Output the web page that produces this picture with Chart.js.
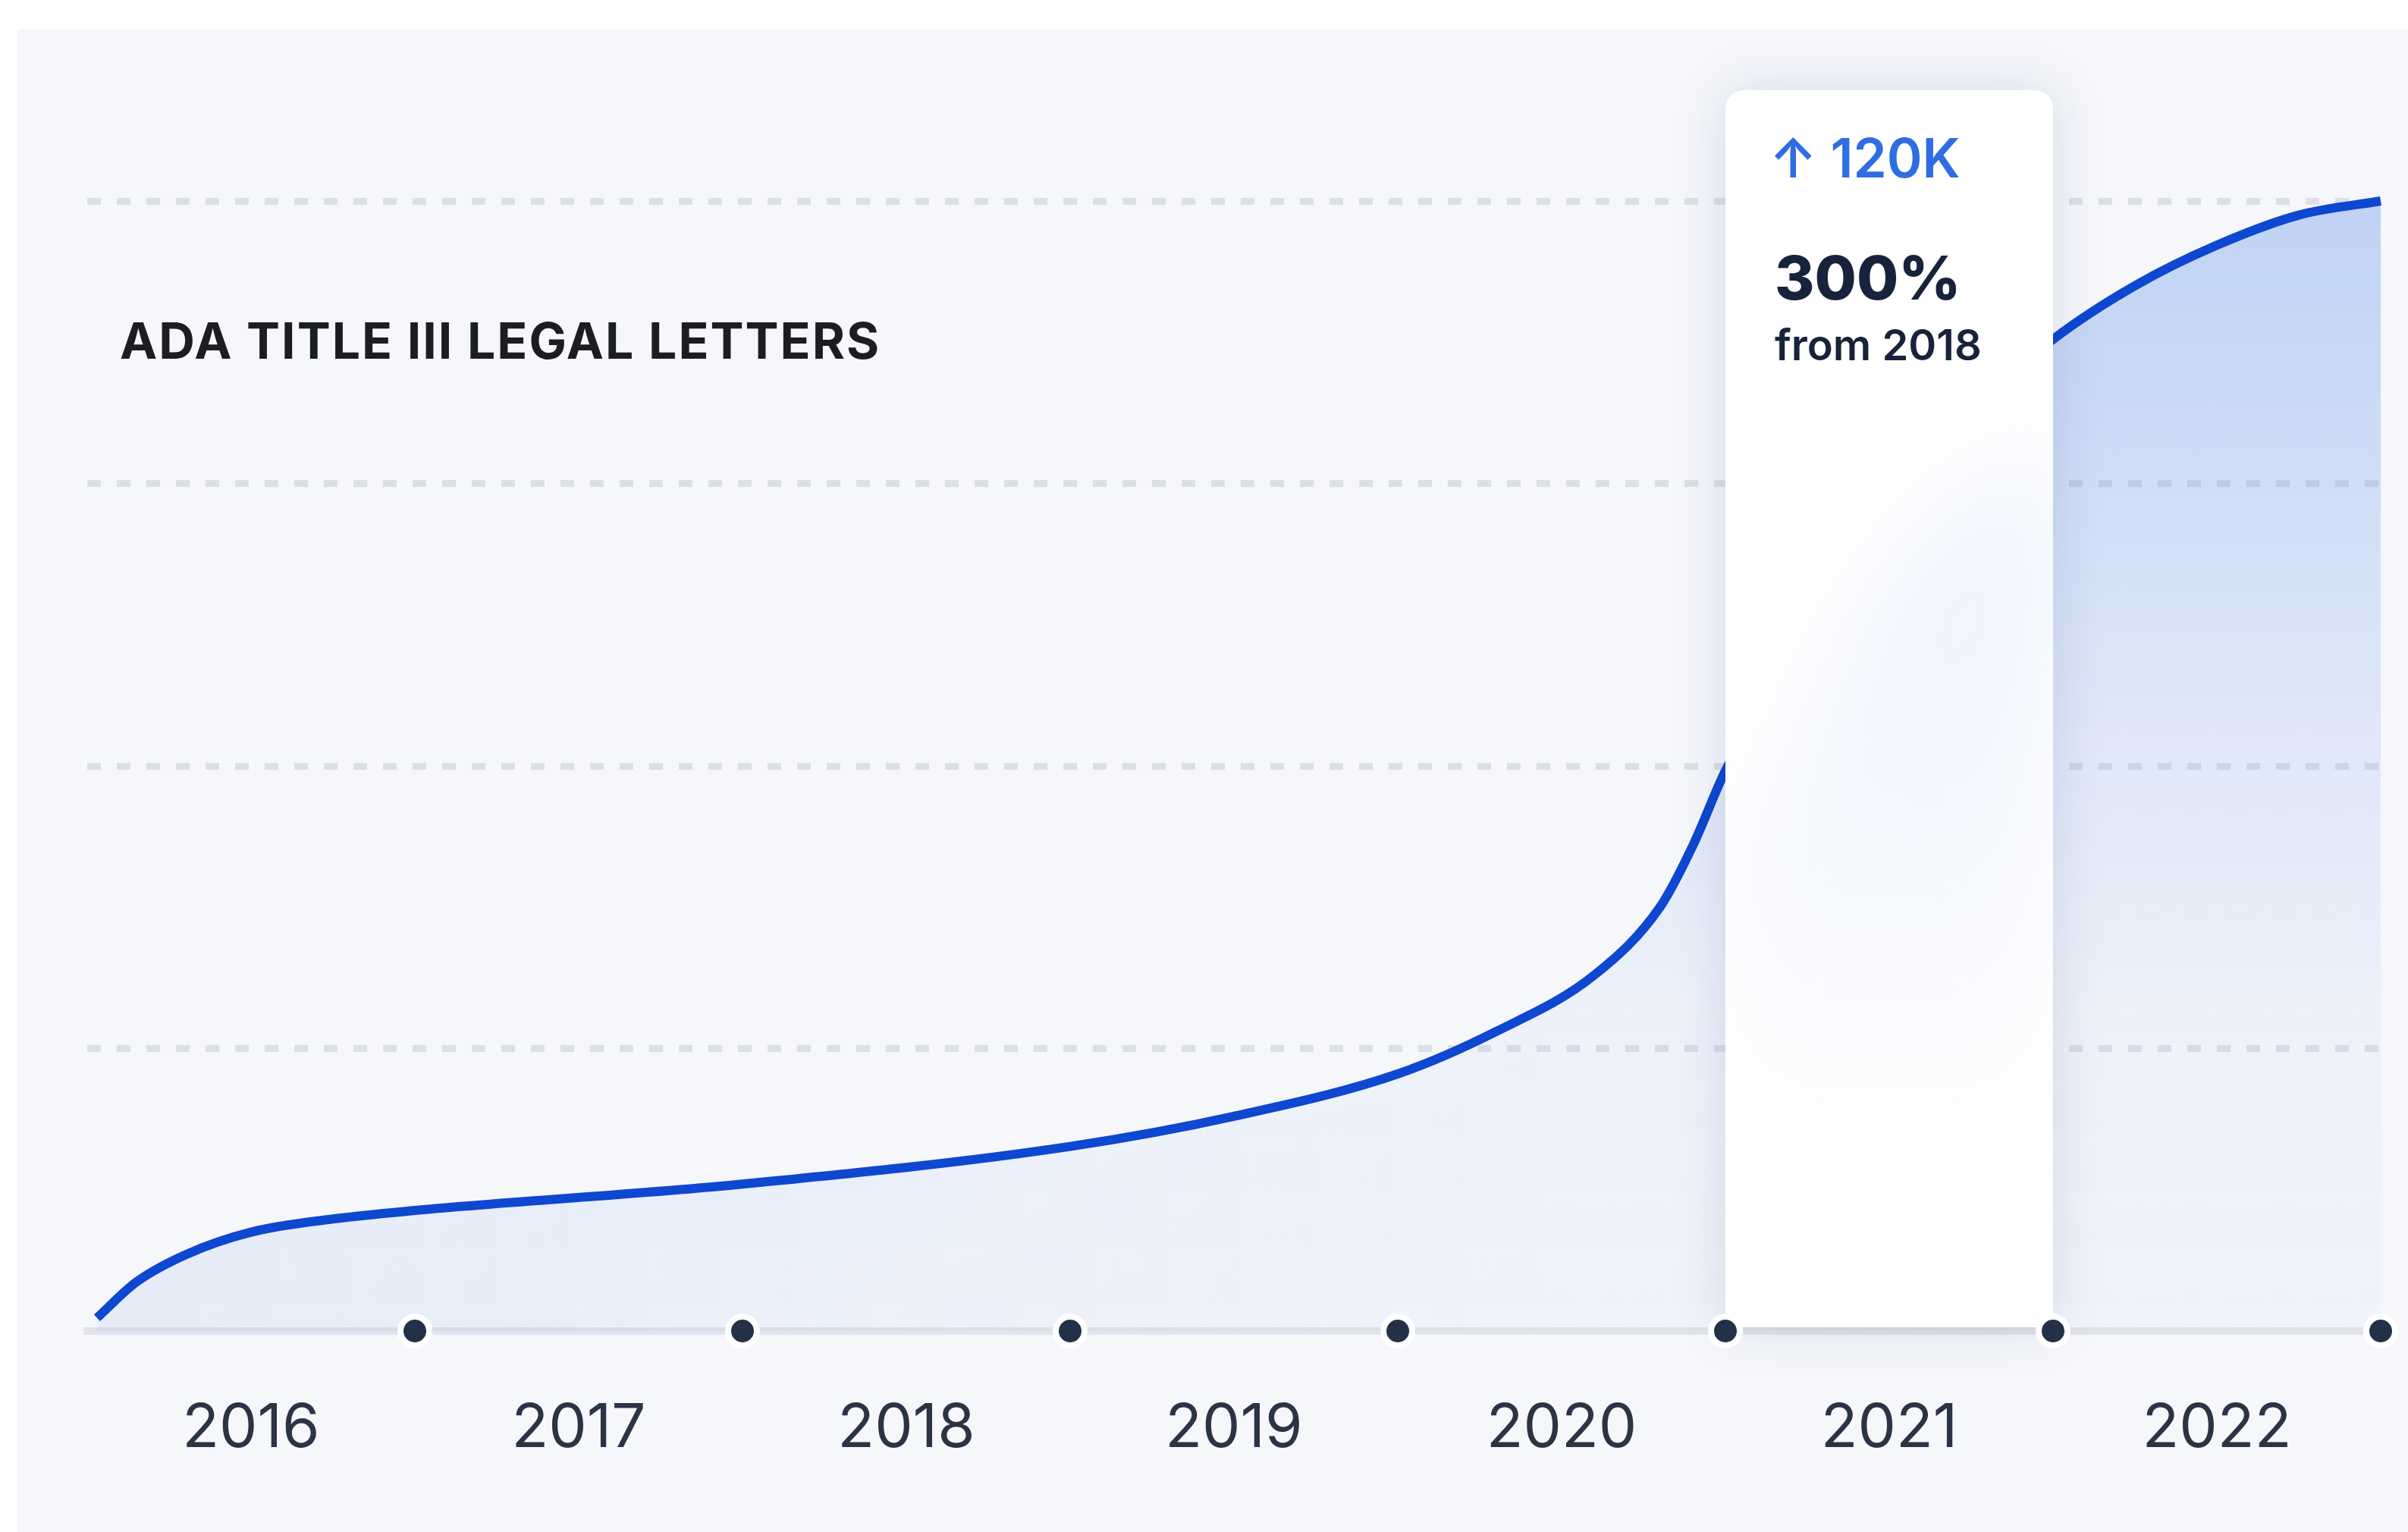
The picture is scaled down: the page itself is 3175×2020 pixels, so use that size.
<!DOCTYPE html>
<html>
<head>
<meta charset="utf-8">
<script src="https://cdn.jsdelivr.net/npm/chart.js@4.4.1/dist/chart.umd.min.js"></script>
<style>
  html, body { margin: 0; padding: 0; background: #fff; }
  #contenedor { position: relative; width: 3175px; height: 2020px; }
</style>
</head>
<body>
<div id="contenedor"><canvas id="graficoCartas"></canvas></div>
<script>
// datos (valores en miles)
const titulo = 'ADA TITLE III LEGAL LETTERS';
const anios = ['2016', '2017', '2018', '2019', '2020', '2021', '2022'];
const posEtiquetas = [0.5, 1.5, 2.5, 3.5, 4.5, 5.5, 6.5];
const posPuntos = [1, 2, 3, 4, 5, 6, 7];
const curvaX = [0.03, 0.15, 0.3, 0.5, 0.75, 1.0, 2.0, 3.0, 3.5, 4.0, 4.3, 4.6, 4.8, 4.9, 5.0, 5.5, 6.0, 6.25, 6.5, 6.75, 7.0];
const curvaY = [1.4, 5.2, 8.1, 10.5, 11.9, 12.8, 15.6, 19.6, 22.8, 27.3, 31.8, 37.8, 45.0, 51.5, 59.5, 90.0, 105.3, 111.0, 115.3, 118.5, 120.0];
const lineasY = [0, 30, 60, 90, 120];
const resaltadoDesde = 5;
const resaltadoHasta = 6;
const textosResaltado = ['↑ 120K', '300%', 'from 2018'];

let patronRelleno = null;

const crearRelleno = (chart) => {
    const area = chart.chartArea;
    if (!area) return 'rgba(0,0,0,0)';
    if (patronRelleno) return patronRelleno;
    const c = document.createElement('canvas');
    c.width = chart.width;
    c.height = chart.height;
    const g = c.getContext('2d');
    const v = g.createLinearGradient(0, area.top, 0, area.bottom);
    v.addColorStop(0, 'rgba(105,150,235,0.38)');
    v.addColorStop(0.45, 'rgba(105,150,235,0.17)');
    v.addColorStop(0.75, 'rgba(105,150,235,0.05)');
    v.addColorStop(1, 'rgba(105,150,235,0.03)');
    g.fillStyle = v;
    g.fillRect(0, 0, c.width, c.height);

    // tinte extra abajo a la izquierda
    const capa = document.createElement('canvas');
    capa.width = c.width;
    capa.height = c.height;
    const h = capa.getContext('2d');
    const hg = h.createLinearGradient(area.left, 0, area.left + area.width * 0.65, 0);
    hg.addColorStop(0, 'rgba(105,150,235,0.08)');
    hg.addColorStop(1, 'rgba(105,150,235,0)');
    h.fillStyle = hg;
    h.fillRect(0, 0, capa.width, capa.height);
    h.globalCompositeOperation = 'destination-in';
    const mg = h.createLinearGradient(0, area.top + area.height * 0.55, 0, area.top + area.height * 0.85);
    mg.addColorStop(0, 'rgba(0,0,0,0)');
    mg.addColorStop(1, 'rgba(0,0,0,1)');
    h.fillStyle = mg;
    h.fillRect(0, 0, capa.width, capa.height);
    g.drawImage(capa, 0, 0);

    patronRelleno = chart.ctx.createPattern(c, 'no-repeat');
    return patronRelleno;
};

const fondoPanel = {
    id: 'fondoPanel',
    beforeDraw(chart) {
        const ctx = chart.ctx;
        ctx.save();
        ctx.fillStyle = '#ffffff';
        ctx.fillRect(0, 0, chart.width, chart.height);
        ctx.fillStyle = '#f5f7fb';
        ctx.fillRect(23, 38, chart.width - 23, chart.height - 38);
        ctx.restore();
    }
};

const cajaResaltado = {
    id: 'cajaResaltado',
    beforeDatasetDraw(chart, args) {
        if (args.index !== 1) return;
        const { ctx, chartArea, scales: { x, y } } = chart;
        const izq = x.getPixelForValue(resaltadoDesde);
        const der = x.getPixelForValue(resaltadoHasta);
        const arriba = chartArea.top - 146;
        const abajo = chartArea.bottom - 5;
        ctx.save();
        ctx.shadowColor = 'rgba(25,40,90,0.13)';
        ctx.shadowBlur = 70;
        ctx.fillStyle = '#ffffff';
        ctx.beginPath();
        ctx.roundRect(izq, arriba, der - izq, abajo - arriba, [24, 24, 0, 0]);
        ctx.fill();
        ctx.shadowColor = 'rgba(0,0,0,0)';
        ctx.clip();

        // bruma azul difusa bajo la curva oculta
        ctx.filter = 'blur(70px)';
        ctx.beginPath();
        ctx.moveTo(izq, abajo);
        curvaX.forEach((cx, i) => {
            if (cx >= resaltadoDesde - 0.01 && cx <= resaltadoHasta + 0.01) {
                ctx.lineTo(x.getPixelForValue(cx), y.getPixelForValue(curvaY[i]) + 120);
            }
        });
        ctx.lineTo(der, abajo);
        ctx.closePath();
        const bg = ctx.createLinearGradient(0, y.getPixelForValue(100), 0, y.getPixelForValue(15));
        bg.addColorStop(0, 'rgba(185,205,243,0.32)');
        bg.addColorStop(1, 'rgba(185,205,243,0)');
        ctx.fillStyle = bg;
        ctx.fill();
        ctx.restore();
    }
};

const textos = {
    id: 'textos',
    afterDraw(chart) {
        const { ctx, scales: { x } } = chart;
        const bx = x.getPixelForValue(resaltadoDesde);
        ctx.save();
        ctx.textBaseline = 'alphabetic';
        ctx.textAlign = 'left';

        ctx.fillStyle = '#1b1d22';
        ctx.font = '700 66px Inter';
        ctx.letterSpacing = '2px';
        ctx.fillText(titulo, 158, 473);
        ctx.letterSpacing = '0px';

        ctx.fillStyle = '#2f6de3';
        ctx.font = '600 71px Inter';
        ctx.fillText(textosResaltado[0], bx + 58, 234);

        ctx.fillStyle = '#17233b';
        ctx.font = '800 80px Inter';
        ctx.fillText(textosResaltado[1], bx + 65, 395);

        ctx.font = '600 56px Inter';
        ctx.fillText(textosResaltado[2], bx + 65, 475);
        ctx.restore();
    }
};

new Chart(document.getElementById('graficoCartas').getContext('2d'), {
    type: 'line',
    data: {
        datasets: [
            {
                label: 'Letters',
                data: curvaX.map((v, i) => ({ x: v, y: curvaY[i] })),
                borderColor: '#0e47d0',
                borderWidth: 12,
                pointRadius: 0,
                cubicInterpolationMode: 'monotone',
                fill: 'origin',
                backgroundColor: (c) => crearRelleno(c.chart),
                clip: false,
                order: 1,
            },
            {
                label: 'Years',
                data: posPuntos.map((v) => ({ x: v, y: 0 })),
                showLine: false,
                pointRadius: 19,
                pointBackgroundColor: '#233148',
                pointBorderColor: '#ffffff',
                pointBorderWidth: 8,
                fill: false,
                clip: false,
                order: 0,
            },
        ],
    },
    options: {
        responsive: true,
        maintainAspectRatio: false,
        animation: false,
        events: [],
        layout: { padding: { left: 115, right: 36, top: 265, bottom: 0 } },
        plugins: {
            legend: { display: false },
            tooltip: { enabled: false },
        },
        scales: {
            x: {
                type: 'linear',
                min: 0,
                max: 7,
                afterBuildTicks: (s) => { s.ticks = posEtiquetas.map((v) => ({ value: v })); },
                afterFit: (s) => { s.height = 265; },
                ticks: {
                    callback: (v, i) => anios[i],
                    color: '#2b3446',
                    font: { family: 'Inter', size: 80, weight: '400' },
                    padding: 81,
                    maxRotation: 0,
                    autoSkip: false,
                },
                grid: { display: false, drawTicks: false },
                border: { display: true, color: '#e2e4ea', width: 10 },
            },
            y: {
                min: 0,
                max: 120,
                afterBuildTicks: (s) => { s.ticks = lineasY.map((v) => ({ value: v })); },
                afterFit: (s) => { s.width = 0; },
                ticks: { display: false },
                grid: {
                    color: (c) => (c.tick && c.tick.value === 0 ? 'rgba(0,0,0,0)' : 'rgba(200,204,214,0.55)'),
                    lineWidth: 9,
                    drawTicks: false,
                },
                border: { display: false, dash: [18, 21] },
            },
        },
    },
    plugins: [fondoPanel, cajaResaltado, textos],
});
</script>
</body>
</html>
